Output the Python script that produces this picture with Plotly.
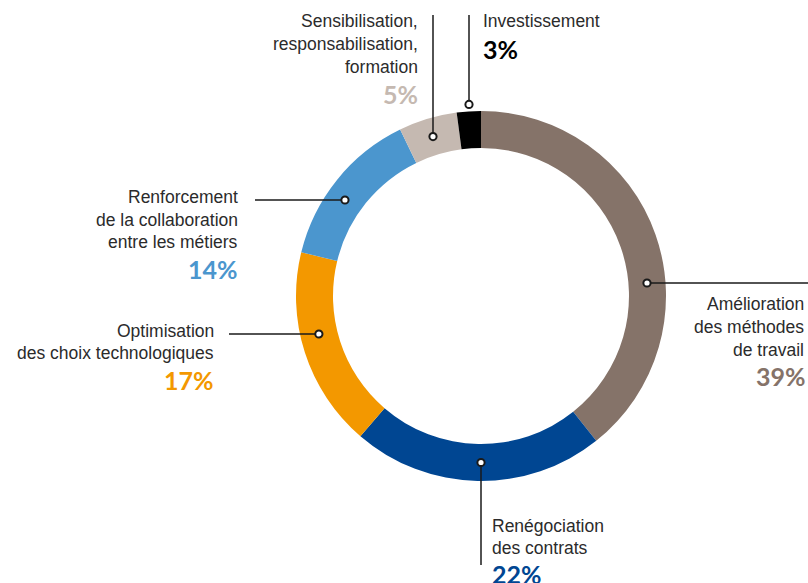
import math
import plotly.graph_objects as go

# ---- data ----
categories = [
    "Amélioration des méthodes de travail",
    "Renégociation des contrats",
    "Optimisation des choix technologiques",
    "Renforcement de la collaboration entre les métiers",
    "Sensibilisation, responsabilisation, formation",
    "Investissement",
]
label_lines = [
    ["Amélioration", "des méthodes", "de travail"],
    ["Renégociation", "des contrats"],
    ["Optimisation", "des choix technologiques"],
    ["Renforcement", "de la collaboration", "entre les métiers"],
    ["Sensibilisation,", "responsabilisation,", "formation"],
    ["Investissement"],
]
# slice sizes as drawn in the picture
values = [39.3, 22.0, 17.5, 14.0, 5.1, 2.1]
# percentages printed on the chart
pct_labels = ["39%", "22%", "17%", "14%", "5%", "3%"]

# ---- style ----
colors = ["#857369", "#004692", "#F39800", "#4B96CE", "#C5B9B1", "#000000"]
W, H = 808, 583
CX, CY, R_OUT = 481, 296, 185
HOLE = 0.80
R_MID = R_OUT * (1 + HOLE) / 2

# label layout: anchor x, xanchor, first line y, line step, pct y,
# leader: ("h", y, x_end) or ("v", x, y_end), dot radius
layout_spec = [
    dict(x=806, xa="right", y0=304, step=23, py=376, leader=("h", 283, 808), side=1, r=R_MID),
    dict(x=490, xa="left", y0=526, step=22, py=574, leader=("v", 481, 565), side=1, r=R_MID),
    dict(x=216, xa="right", y0=331, step=22, py=380, leader=("h", 334, 229), side=-1, r=R_MID),
    dict(x=240, xa="right", y0=197, step=22.5, py=269, leader=("h", 200, 255), side=-1, r=R_MID),
    dict(x=420, xa="right", y0=21, step=23, py=94, leader=("v", 433, 15), side=-1, r=R_MID),
    dict(x=481, xa="left", y0=21, step=23, py=49, leader=("v", 469, 15), side=-1, r=R_OUT + 7),
]

fig = go.Figure()
fig.add_trace(go.Pie(
    values=values, labels=categories, sort=False, direction="clockwise", rotation=0,
    hole=HOLE, marker=dict(colors=colors, line=dict(width=0)),
    textinfo="none", customdata=pct_labels, hovertemplate="%{label}: %{customdata}<extra></extra>",
    showlegend=False,
    domain=dict(x=[(CX - R_OUT) / W, (CX + R_OUT) / W],
                y=[(H - (CY + R_OUT)) / H, (H - (CY - R_OUT)) / H]),
))
# invisible helper trace so the cartesian axes exist
fig.add_trace(go.Scatter(x=[0, W], y=[0, H], mode="markers", marker=dict(opacity=0),
                         hoverinfo="skip", showlegend=False))

annotations = []
shapes = []
DOT = 3.6
for lines, p, c, spec in zip(label_lines, pct_labels, colors, layout_spec):
    kind, pos, end = spec["leader"]
    r = spec["r"]
    if kind == "h":
        dy = pos - CY
        dx = math.sqrt(max(r * r - dy * dy, 0)) * spec["side"]
        dot = (CX + dx, pos)
        x1, y1 = end, pos
    else:
        dx = pos - CX
        dy = math.sqrt(max(r * r - dx * dx, 0)) * spec["side"]
        dot = (pos, CY + dy)
        x1, y1 = pos, end
    shapes.append(dict(type="line", xref="x", yref="y", x0=dot[0], y0=dot[1], x1=x1, y1=y1,
                       line=dict(color="#1a1a1a", width=1.5), layer="above"))
    shapes.append(dict(type="circle", xref="x", yref="y",
                       x0=dot[0] - DOT, x1=dot[0] + DOT, y0=dot[1] - DOT, y1=dot[1] + DOT,
                       fillcolor="white", line=dict(color="#1a1a1a", width=2), layer="above"))
    for i, t in enumerate(lines):
        annotations.append(dict(
            x=spec["x"], y=spec["y0"] + i * spec["step"], xref="x", yref="y",
            text=t, showarrow=False, xanchor=spec["xa"], yanchor="middle",
            font=dict(family="Liberation Sans, Arial, sans-serif", size=17.5, color="#2b2b2b")))
    annotations.append(dict(
        x=spec["x"] + (2 if spec["xa"] == "right" and kind == "h" and spec["side"] == 1 else 0),
        y=spec["py"], xref="x", yref="y",
        text="<b>%s</b>" % p, showarrow=False, xanchor=spec["xa"], yanchor="middle",
        font=dict(family="Lato, sans-serif", size=25, color=c)))

fig.update_layout(
    width=W, height=H, margin=dict(l=0, r=0, t=0, b=0),
    paper_bgcolor="white", plot_bgcolor="rgba(0,0,0,0)",
    xaxis=dict(range=[0, W], visible=False, fixedrange=True),
    yaxis=dict(range=[H, 0], visible=False, fixedrange=True),
    annotations=annotations, shapes=shapes,
)
fig.write_html("out.html", config={"displayModeBar": False},
               post_script="document.body.style.margin='0';document.body.style.overflow='hidden';")
